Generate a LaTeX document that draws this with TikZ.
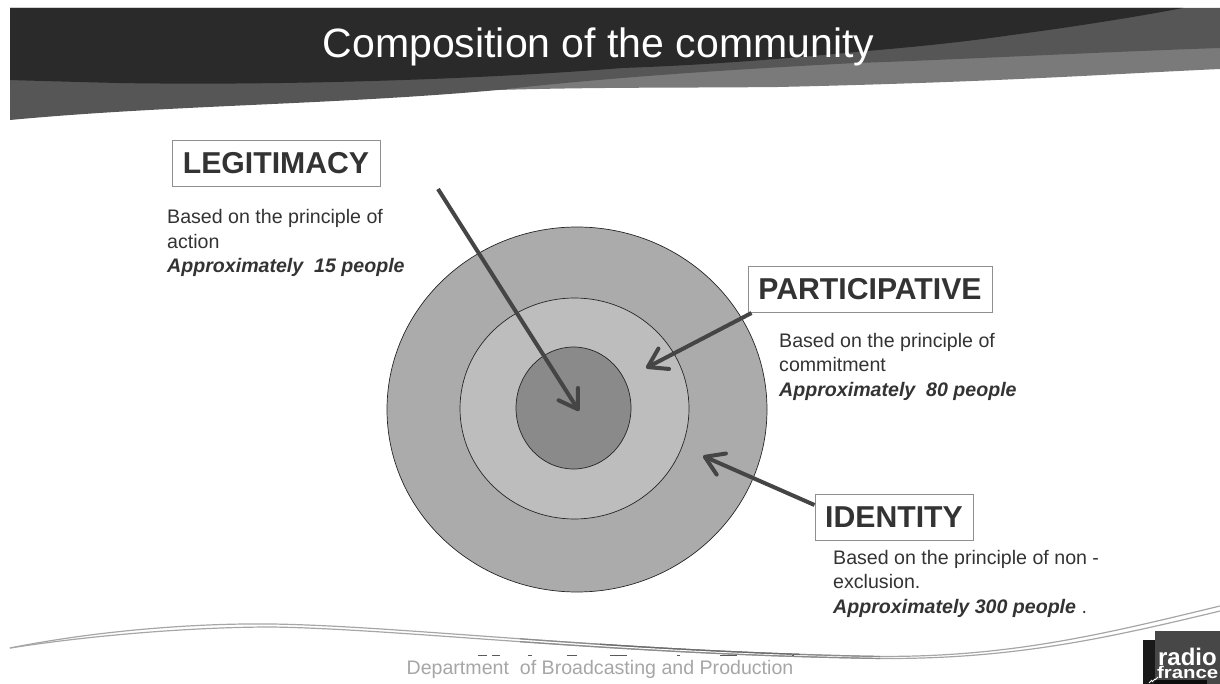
\documentclass[tikz,border=0pt]{standalone}
\usepackage{fontspec}
\setmainfont{Liberation Sans}
\usetikzlibrary{arrows.meta,shapes.geometric}
\definecolor{banddark}{HTML}{2A2A2A}
\definecolor{bandmid}{HTML}{565656}
\definecolor{bandlight}{HTML}{7A7A7A}
\definecolor{ringouter}{HTML}{ABABAB}
\definecolor{ringmid}{HTML}{BDBDBD}
\definecolor{ringinner}{HTML}{8A8A8A}
\definecolor{arrowgray}{HTML}{454545}
\definecolor{boxedge}{HTML}{8F8F8F}
\definecolor{footgray}{HTML}{A6A6A6}
\tikzset{
  ring/.style={draw=black!85,line width=0.7pt,ellipse,inner sep=0pt},
  titlebox/.style={draw=boxedge,line width=1pt,fill=white,inner sep=0pt,minimum height=46pt,font=\fontsize{30.2}{30.2}\selectfont\bfseries,text=black!80},
  bodytext/.style={anchor=north west,align=left,inner sep=0pt,font=\fontsize{19.6}{24.5}\selectfont,text=black!80},
  pointer/.style={draw=arrowgray,line width=4pt,-{Straight Barb[length=18pt,width=23pt,line width=4pt,round]}},
  swoosh/.style={line width=1.2pt},
  fragment/.style={fill=black!65}
}
\newcommand{\swooshone}{(10,648) .. controls (100,630) and (200,623) .. (272,624) .. controls (400,626) and (600,650) .. (856,656) .. controls (1000,660) and (1100,635) .. (1220,606)}
\newcommand{\swooshtwo}{(10,648) .. controls (100,634) and (200,627) .. (272,627) .. controls (400,629) and (600,653) .. (856,658) .. controls (1000,662) and (1100,640) .. (1220,611)}
\begin{document}
\begin{tikzpicture}[x=1pt,y=-1pt]
\useasboundingbox (0,0) rectangle (1220,684);
% header
\fill[bandlight] (520,50) -- (1220,8) -- (1220,69) .. controls (1110,74) and (1000,82) .. (778,87) .. controls (680,88) and (600,87) .. (498,90) -- cycle;
\fill[bandmid] (10,8) -- (1220,8) -- (1220,48) .. controls (1100,52) and (950,60) .. (856,63) .. controls (760,68) and (620,76) .. (498,90) .. controls (330,105) and (170,105) .. (10,120) -- cycle;
\fill[banddark] (10,8) -- (1183,8) .. controls (1120,20) and (1050,30) .. (1012,35) .. controls (950,44) and (900,48) .. (856,52) .. controls (750,62) and (680,66) .. (622,68) .. controls (500,78) and (300,86) .. (117,83) .. controls (80,82) and (40,81) .. (10,80) -- cycle;
\node[text=white,font=\fontsize{41}{41}\selectfont,inner sep=0pt] (title) at (598.5,47) {Composition of the community};
% rings
\node[ring,fill=ringouter,minimum width=380pt,minimum height=365pt] (outer) at (577,409.5) {};
\node[ring,fill=ringmid,minimum width=229pt,minimum height=221pt] (middle) at (574.5,408.5) {};
\node[ring,fill=ringinner,minimum width=115pt,minimum height=122pt] (inner) at (573.5,408) {};
% labels
\node[titlebox,minimum width=208pt] (legit) at (276,163.5) {LEGITIMACY};
\node[titlebox,minimum width=244pt] (part) at (870,289.5) {PARTICIPATIVE};
\node[titlebox,minimum width=158pt] (ident) at (894,517) {IDENTITY};
\node[bodytext] (tl) at (167,209.5) {Based on the principle of\\action\\\textbf{\textit{Approximately\ \ 15 people}}};
\node[bodytext] (tp) at (779,333) {Based on the principle of\\commitment\\\textbf{\textit{Approximately\ \ 80 people}}};
\node[bodytext] (ti) at (833,550) {Based on the principle of non -\\exclusion.\\\textbf{\textit{Approximately 300 people}} .};
% arrows
\coordinate (a1s) at (438,189);
\coordinate (a1e) at (579,411);
\coordinate (a2e) at (646,368);
\coordinate (a3e) at (703,456);
\draw[pointer] (a1s) -- (a1e);
\draw[pointer] ([xshift=4pt]part.south west) -- (a2e);
\draw[pointer] ([yshift=12pt]ident.west) -- (a3e);
% footer
\draw[swoosh,draw=black!35] \swooshone;
\draw[swoosh,draw=black!35] \swooshtwo;
\begin{scope}
\clip (520,600) rectangle (880,670);
\draw[swoosh,draw=black!45] \swooshone;
\draw[swoosh,draw=black!45] \swooshtwo;
\end{scope}
\begin{scope}
\clip (600,600) rectangle (800,670);
\draw[swoosh,draw=black!58] \swooshone;
\end{scope}
\foreach \a/\b in {478/487,492/500,528/532,567/577,610/627,677/680,720/737,792/794}
  \fill[fragment] (\a,655) rectangle (\b,656.2);
\node[text=footgray,font=\fontsize{19.6}{20}\selectfont,inner sep=0pt] (foot) at (600,669.5) {Department\ \ of Broadcasting and Production};
% logo
\fill[black!90] (1143,640) rectangle (1155,684);
\fill[black!72] (1155,631) rectangle (1220,684);
\fill[black!95] (1155,680) rectangle (1207,684);
\draw[white,line width=1pt] (1149,683) -- (1152,680) (1152,682) -- (1155,679) (1155,680) -- (1158,677);
\node[text=white,font=\fontsize{24}{24}\selectfont\bfseries,inner sep=0pt,anchor=base east] (lr) at (1217,665) {radio};
\node[text=white,font=\fontsize{17}{17}\selectfont\bfseries,inner sep=0pt,anchor=base east] (lf) at (1218.5,678) {\scalebox{1.2}[1]{france}};
\end{tikzpicture}
\end{document}
